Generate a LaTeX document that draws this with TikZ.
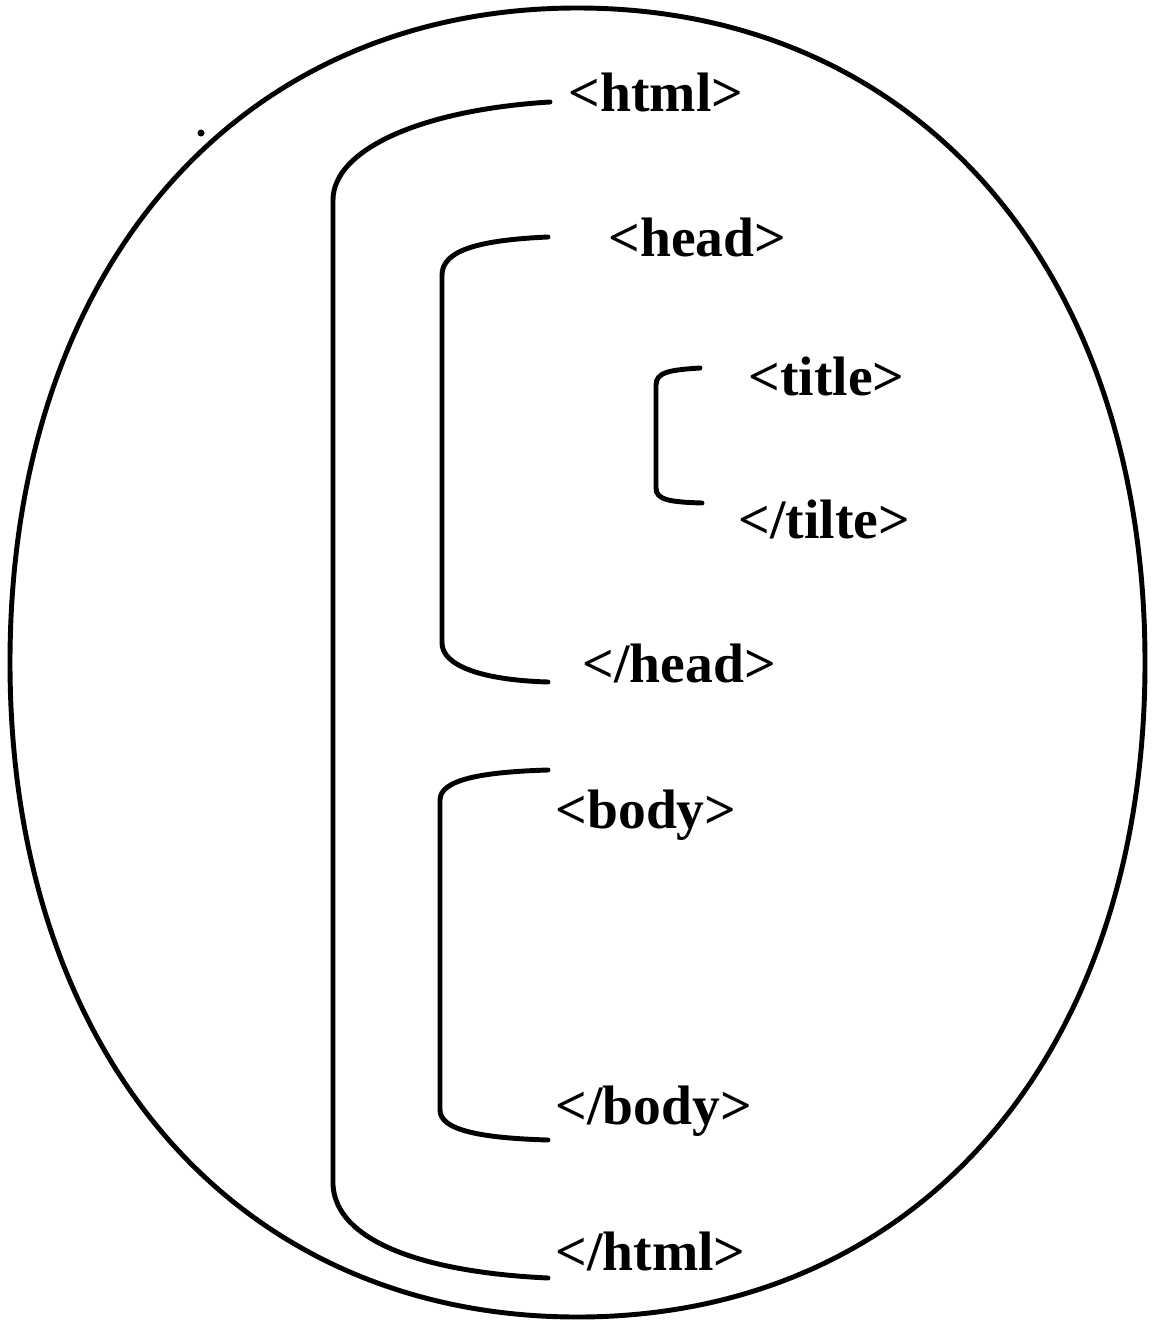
\documentclass[tikz,border=0pt]{standalone}
\usepackage{fontspec}
\setmainfont{Liberation Serif}
\tikzset{tagtext/.style={anchor=base west, inner sep=0pt, font=\bfseries\fontsize{15.8}{18}\selectfont},
  tagbracket/.style={line width=1.4pt, line cap=round}}
\begin{document}
\begin{tikzpicture}[x=0.01cm, y=-0.01cm]
            \useasboundingbox (0,0) rectangle (1154,1324);
            \draw[line width=1.4pt] (1145,662.5) .. controls (1145,1055) and (918,1317) .. (577.5,1317)
                .. controls (237,1317) and (10,1055) .. (10,662.5) .. controls (10,270) and (237,8) .. (577.5,8)
                .. controls (918,8) and (1145,270) .. cycle;
            \fill (201,133) circle [radius=1pt];

            \node[tagtext] (htmlopen) at (568,111) {<html>};
            \node[tagtext] (headopen) at (608,256) {<head>};
            \node[tagtext] (titleopen) at (748,395) {<title>};
            \node[tagtext] (titleclose) at (738,538) {</tilte>};
            \node[tagtext] (headclose) at (582,682) {</head>};
            \node[tagtext] (bodyopen) at (555,828) {<body>};
            \node[tagtext] (bodyclose) at (555,1124) {</body>};
            \node[tagtext] (htmlclose) at (555,1270) {</html>};

            \coordinate (htmltop) at (550,102); \coordinate (htmlbot) at (548,1278);
            \coordinate (headtop) at (548,237); \coordinate (headbot) at (548,682);
            \coordinate (titletop) at (700,368); \coordinate (titlebot) at (702,503);
            \coordinate (bodytop) at (548,770); \coordinate (bodybot) at (548,1140);

            \begin{scope}[tagbracket]
                \draw (htmltop) .. controls (420,110) and (333,150) .. (333,200) -- (333,1185) .. controls (336,1240) and (420,1272) .. (htmlbot);
                \draw (headtop) .. controls (480,240) and (442,250) .. (442,275) -- (442,643) .. controls (442,665) and (480,680) .. (headbot);
                \draw (titletop) .. controls (670,370) and (656,372) .. (656,385) -- (656,488) .. controls (656,500) and (670,502) .. (titlebot);
                \draw (bodytop) .. controls (480,772) and (440,780) .. (440,800) -- (440,1110) .. controls (440,1130) and (480,1138) .. (bodybot);
            \end{scope}
        \end{tikzpicture}
\end{document}
